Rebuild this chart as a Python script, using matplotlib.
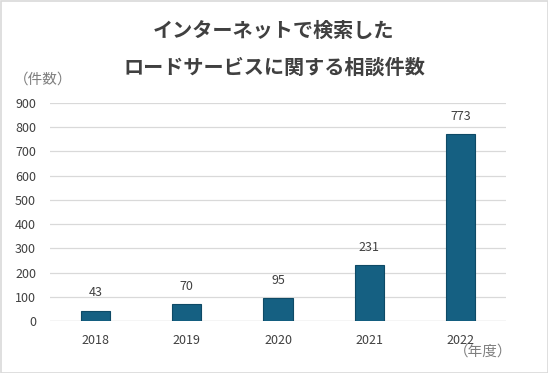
import matplotlib
matplotlib.use("Agg")
import matplotlib.pyplot as plt
from matplotlib.patches import Rectangle

plt.rcParams["font.family"] = ["Noto Sans CJK JP", "DejaVu Sans"]

# データ
years  = ["2018", "2019", "2020", "2021", "2022"]
counts = [43, 70, 95, 231, 773]
yticks = [0, 100, 200, 300, 400, 500, 600, 700, 800, 900]

BAR_COLOR = "#156082"
EDGE_COLOR = "#0e4a66"
TEXT_COLOR = "#404040"

fig = plt.figure(figsize=(5.48, 3.73), dpi=100)
W, H = 548, 373
# 描画領域（ピクセル基準）
left, right, top, bottom = 50, 506, 103, 321
ax = fig.add_axes([left / W, 1 - bottom / H, (right - left) / W, (bottom - top) / H])

x = range(len(years))
ax.bar(x, counts, width=0.32, color=BAR_COLOR, edgecolor=EDGE_COLOR,
       linewidth=0.8, zorder=3)
for xi, v in zip(x, counts):
    ax.annotate(f"{v}", xy=(xi, v), xytext=(0, 8), textcoords="offset points",
                ha="center", va="bottom", fontsize=9, color=TEXT_COLOR)

ax.set_xlim(-0.5, len(years) - 0.5)
ax.set_ylim(0, 900)
ax.set_yticks(yticks)
ax.set_xticks(list(x))
ax.set_xticklabels(years)
ax.tick_params(axis="both", length=0, labelsize=9, labelcolor=TEXT_COLOR)
ax.tick_params(axis="x", pad=9)
ax.tick_params(axis="y", pad=10)
ax.grid(axis="y", color="#d9d9d9", linewidth=0.9, zorder=0)
ax.axhline(0, color="#d9d9d9", linewidth=0.9, zorder=1)
for s in ax.spines.values():
    s.set_visible(False)

fig.text(0.5, 1 - 30 / H, "インターネットで検索した", ha="center", va="center",
         fontsize=14.5, fontweight="bold", color=TEXT_COLOR)
fig.text(0.5, 1 - 67 / H, "ロードサービスに関する相談件数", ha="center", va="center",
         fontsize=14.5, fontweight="bold", color=TEXT_COLOR)
fig.text(14 / W, 1 - 80 / H, "（件数）", ha="left", va="center",
         fontsize=10.5, color="#7f7f7f")
fig.text(512 / W, 1 - 352 / H, "（年度）", ha="right", va="center",
         fontsize=10.5, color="#7f7f7f")

# 外枠
fig.patches.append(Rectangle((0.5 / W, 0.5 / H), 1 - 1 / W, 1 - 1 / H,
                             transform=fig.transFigure, fill=False,
                             edgecolor="#d9d9d9", linewidth=1.2))

fig.savefig("out.png", dpi=100)
